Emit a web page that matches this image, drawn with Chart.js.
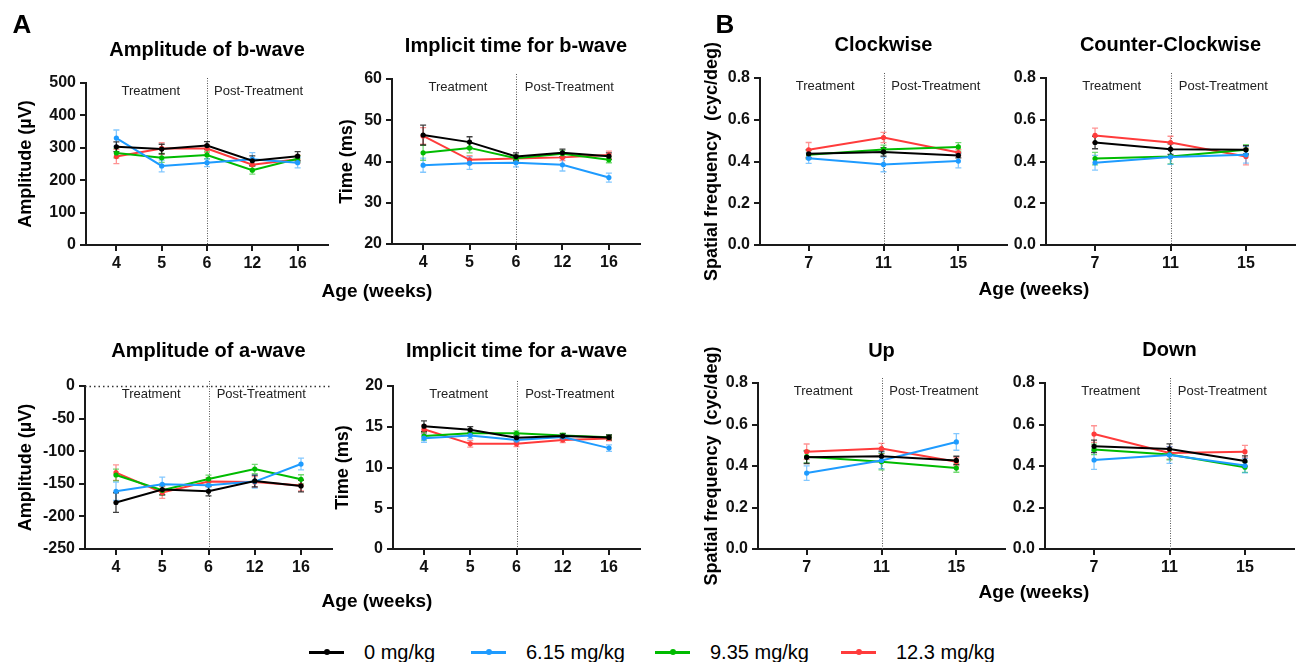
<!DOCTYPE html>
<html><head><meta charset="utf-8">
<script src="https://cdn.jsdelivr.net/npm/chart.js@4.4.1/dist/chart.umd.min.js"></script>
<style>
html,body{margin:0;padding:0;background:#fff;}
#fig{position:relative;width:1304px;height:662px;overflow:hidden;background:#fff;font-family:"Liberation Sans",Arial,sans-serif;color:#000;}
.cv{position:absolute;}
.lbl{position:absolute;white-space:nowrap;line-height:1;transform:translate(-50%,-50%);font-weight:bold;}
.leg{position:absolute;top:652px;height:0;}
.leg .ln{position:absolute;top:-1.5px;width:35px;height:3px;}
.leg .dt{position:absolute;top:-3px;left:14.5px;width:6px;height:6px;border-radius:50%;}
.leg .tx{position:absolute;left:55px;top:-11px;font-size:20px;line-height:22px;white-space:nowrap;}
</style></head>
<body><div id="fig"></div>
<script>
// ---------- data ----------
const groups = ['0 mg/kg', '6.15 mg/kg', '9.35 mg/kg', '12.3 mg/kg'];
const colors = ['#000000', '#1e9bff', '#00bb00', '#ff3b3b'];
const phases = ['Treatment', 'Post-Treatment'];
const ergWeeks = ['4', '5', '6', '12', '16'];
const omrWeeks = ['7', '11', '15'];

const bAmpTicks = ['0', '100', '200', '300', '400', '500'];
const bTimeTicks = ['20', '30', '40', '50', '60'];
const aAmpTicks = ['-250', '-200', '-150', '-100', '-50', '0'];
const aTimeTicks = ['0', '5', '10', '15', '20'];
const sfTicks = ['0.0', '0.2', '0.4', '0.6', '0.8'];

// order of series: 0, 6.15, 9.35, 12.3 mg/kg
const bAmpMean = [[303, 296, 307, 260, 274], [330, 244, 254, 265, 254], [284, 269, 278, 231, 266], [273, 298, 298, 248, 265]];
const bAmpErr  = [[15, 15, 12, 15, 14], [25, 18, 12, 20, 16], [15, 14, 12, 12, 10], [22, 18, 12, 14, 12]];

const bTimeMean = [[46.4, 44.7, 41.2, 42.1, 41.3], [39.1, 39.6, 39.7, 39.2, 36.1], [42.1, 43.3, 40.8, 41.9, 40.4], [46.2, 40.4, 40.7, 41.0, 41.6]];
const bTimeErr  = [[2.4, 1.3, 0.9, 0.9, 0.8], [1.7, 1.5, 1.0, 1.5, 1.1], [1.8, 1.2, 0.8, 0.8, 0.7], [2.0, 1.0, 0.8, 0.8, 0.9]];

const aAmpMean = [[-178.7, -158.9, -161.4, -145.6, -153.3], [-161.4, -150.7, -152.2, -146.6, -119.7], [-136.5, -160, -142.6, -127.3, -143.1], [-132.9, -163.4, -146.6, -147.1, -152.7]];
const aAmpErr  = [[15, 8, 7, 9, 9], [14, 11, 7, 10, 9], [9, 7, 6, 7, 7], [12, 9, 6, 8, 8]];

const aTimeMean = [[15.07, 14.62, 13.65, 13.85, 13.69], [13.6, 13.93, 13.36, 13.73, 12.38], [13.85, 14.2, 14.2, 13.93, 13.7], [14.7, 12.9, 12.9, 13.36, 13.56]];
const aTimeErr  = [[0.65, 0.4, 0.35, 0.3, 0.3], [0.5, 0.4, 0.35, 0.3, 0.4], [0.5, 0.3, 0.3, 0.3, 0.3], [0.5, 0.4, 0.35, 0.3, 0.3]];

const cwMean = [[0.437, 0.446, 0.429], [0.416, 0.386, 0.402], [0.432, 0.458, 0.470], [0.456, 0.515, 0.443]];
const cwErr  = [[0.02, 0.02, 0.012], [0.025, 0.035, 0.033], [0.02, 0.02, 0.02], [0.035, 0.025, 0.015]];

const ccwMean = [[0.491, 0.459, 0.456], [0.394, 0.421, 0.432], [0.414, 0.424, 0.456], [0.525, 0.491, 0.424]];
const ccwErr  = [[0.03, 0.025, 0.02], [0.035, 0.035, 0.04], [0.03, 0.035, 0.025], [0.035, 0.03, 0.04]];

const upMean = [[0.442, 0.447, 0.427], [0.366, 0.427, 0.516], [0.445, 0.421, 0.390], [0.469, 0.484, 0.421]];
const upErr  = [[0.03, 0.025, 0.02], [0.035, 0.04, 0.04], [0.03, 0.04, 0.02], [0.037, 0.025, 0.02]];

const downMean = [[0.495, 0.482, 0.424], [0.429, 0.453, 0.402], [0.480, 0.455, 0.394], [0.554, 0.463, 0.469]];
const downErr  = [[0.03, 0.025, 0.025], [0.045, 0.04, 0.035], [0.025, 0.025, 0.025], [0.04, 0.03, 0.03]];

// ---------- layout / style ----------
const FONT = '"Liberation Sans", Arial, sans-serif';
const fig = document.getElementById('fig');

function hexA(hex, a) {
  const n = parseInt(hex.slice(1), 16);
  return 'rgba(' + ((n >> 16) & 255) + ',' + ((n >> 8) & 255) + ',' + (n & 255) + ',' + a + ')';
}

const decorPlugin = {
  id: 'panelDecor',
  beforeDatasetsDraw(chart, args, o) {
    const {ctx, chartArea: a, scales: {x, y}} = chart;
    ctx.save();
    if (o.zeroLine) {
      const yy = Math.round(y.getPixelForValue(0)) + 0.5;
      ctx.strokeStyle = '#333'; ctx.lineWidth = 1.3; ctx.setLineDash([1.5, 3]);
      ctx.beginPath(); ctx.moveTo(a.left, yy); ctx.lineTo(a.right, yy); ctx.stroke();
    }
    const dx = Math.round(x.getPixelForValue(o.divider)) + 0.5;
    ctx.strokeStyle = '#555'; ctx.lineWidth = 1; ctx.setLineDash([1, 1.5]);
    ctx.beginPath(); ctx.moveTo(dx, a.top - 5); ctx.lineTo(dx, a.bottom); ctx.stroke();
    ctx.setLineDash([]);
    const dss = chart.data.datasets;
    for (let di = dss.length - 1; di >= 0; di--) {
      const ds = dss[di];
      ctx.strokeStyle = hexA(ds.borderColor, di === 0 ? 0.75 : 0.55);
      ctx.lineWidth = 1.3;
      ds.data.forEach((pt, i) => {
        const e = ds.errors[i];
        const px = x.getPixelForValue(pt.x);
        const y1 = y.getPixelForValue(pt.y + e), y2 = y.getPixelForValue(pt.y - e);
        ctx.beginPath();
        ctx.moveTo(px, y1); ctx.lineTo(px, y2);
        ctx.moveTo(px - 3, y1); ctx.lineTo(px + 3, y1);
        ctx.moveTo(px - 3, y2); ctx.lineTo(px + 3, y2);
        ctx.stroke();
      });
    }
    ctx.restore();
  },
  afterDraw(chart, args, o) {
    const {ctx, chartArea: a, scales: {x}} = chart;
    ctx.save();
    ctx.fillStyle = '#000';
    ctx.textAlign = 'center'; ctx.textBaseline = 'alphabetic';
    ctx.font = 'bold 20px ' + FONT;
    ctx.fillText(o.title, (a.left + a.right) / 2, o.titleBase);
    ctx.font = '13px ' + FONT;
    ctx.fillStyle = '#222';
    ctx.fillText(phases[0], x.getPixelForValue(o.treatX), a.top + 12);
    ctx.fillText(phases[1], x.getPixelForValue(o.postX), a.top + 12);
    ctx.restore();
  }
};

function makePanel(p) {
  const cv = document.createElement('canvas');
  cv.className = 'cv';
  cv.width = p.cw; cv.height = p.ch;
  cv.style.left = p.cx + 'px'; cv.style.top = p.cy + 'px';
  cv.style.width = p.cw + 'px'; cv.style.height = p.ch + 'px';
  fig.appendChild(cv);
  const n = p.cats.length;
  const yVals = p.yTicks.map(Number);
  const datasets = p.means.map((arr, g) => ({
    label: groups[g],
    data: arr.map((v, i) => ({x: i, y: v})),
    errors: p.errs[g],
    borderColor: colors[g], backgroundColor: colors[g],
    pointBackgroundColor: colors[g], pointBorderColor: colors[g],
    borderWidth: 2, pointRadius: 2.6, pointHoverRadius: 2.6, pointBorderWidth: 0,
    tension: 0
  }));
  const ax = {display: true, width: 2, color: '#1a1a1a'};
  const gr = {display: true, drawOnChartArea: false, drawTicks: true, tickLength: 6, lineWidth: 2, color: '#1a1a1a'};
  const tf = {family: FONT, size: 16, weight: 'bold'};
  new Chart(cv, {
    type: 'line',
    data: {datasets},
    options: {
      responsive: false, animation: false, events: [],
      layout: {padding: {left: 0, top: p.areaTop - p.cy, right: p.cx + p.cw - p.areaRight, bottom: 0}},
      plugins: {
        legend: {display: false}, tooltip: {enabled: false}, title: {display: false},
        panelDecor: {title: p.title, titleBase: p.titleBase - p.cy, divider: p.divider,
                     treatX: p.treatX, postX: p.postX, zeroLine: !!p.zeroLine}
      },
      scales: {
        x: {
          type: 'linear', min: -p.xOff, max: n - 1 + p.xOff,
          afterBuildTicks: s => { s.ticks = p.cats.map((c, i) => ({value: i})); },
          afterFit: s => { s.height = p.cy + p.ch - p.areaBottom; },
          ticks: {callback: (v) => p.cats[v], font: tf, color: '#111', padding: 3, maxRotation: 0, autoSkip: false},
          grid: gr, border: ax
        },
        y: {
          type: 'linear', min: yVals[0], max: yVals[yVals.length - 1],
          afterBuildTicks: s => { s.ticks = yVals.map(v => ({value: v})); },
          afterFit: s => { s.width = p.areaLeft - p.cx; },
          ticks: {callback: (v, i) => p.yTicks[i], font: tf, color: '#111', padding: 4, autoSkip: false},
          grid: gr, border: ax,
          title: p.yTitle ? {display: true, text: p.yTitle, color: '#000',
                  font: {family: FONT, size: 18, weight: 'bold'},
                  padding: {top: p.yTitleX - p.cx - 10.8, bottom: 0}} : {display: false}
        }
      }
    },
    plugins: [decorPlugin]
  });
}

const panels = [
  {title: 'Amplitude of b-wave', titleBase: 56, cats: ergWeeks, means: bAmpMean, errs: bAmpErr, yTicks: bAmpTicks,
   yTitle: 'Amplitude (\u00b5V)', yTitleX: 26, cx: 0, cy: 25, cw: 340, ch: 250,
   areaLeft: 86, areaRight: 328, areaTop: 83, areaBottom: 245, xOff: 0.67, divider: 2, treatX: 0.76, postX: 3.14},
  {title: 'Implicit time for b-wave', titleBase: 52, cats: ergWeeks, means: bTimeMean, errs: bTimeErr, yTicks: bTimeTicks,
   yTitle: 'Time (ms)', yTitleX: 347, cx: 330, cy: 25, cw: 320, ch: 250,
   areaLeft: 392, areaRight: 640, areaTop: 79, areaBottom: 244, xOff: 0.67, divider: 2, treatX: 0.75, postX: 3.15},
  {title: 'Clockwise', titleBase: 51, cats: omrWeeks, means: cwMean, errs: cwErr, yTicks: sfTicks,
   yTitle: 'Spatial frequency  (cyc/deg)', yTitleX: 712, cx: 690, cy: 20, cw: 325, ch: 280,
   areaLeft: 760, areaRight: 1007, areaTop: 78, areaBottom: 245, xOff: 0.65, divider: 1, treatX: 0.22, postX: 1.70},
  {title: 'Counter-Clockwise', titleBase: 51, cats: omrWeeks, means: ccwMean, errs: ccwErr, yTicks: sfTicks,
   yTitle: null, cx: 1005, cy: 25, cw: 299, ch: 250,
   areaLeft: 1046, areaRight: 1295, areaTop: 78, areaBottom: 245, xOff: 0.65, divider: 1, treatX: 0.22, postX: 1.70},
  {title: 'Amplitude of a-wave', titleBase: 357, cats: ergWeeks, means: aAmpMean, errs: aAmpErr, yTicks: aAmpTicks,
   yTitle: 'Amplitude (\u00b5V)', yTitleX: 26, cx: 0, cy: 330, cw: 340, ch: 250, zeroLine: true,
   areaLeft: 85, areaRight: 332, areaTop: 386, areaBottom: 549, xOff: 0.67, divider: 2, treatX: 0.76, postX: 3.14},
  {title: 'Implicit time for a-wave', titleBase: 357, cats: ergWeeks, means: aTimeMean, errs: aTimeErr, yTicks: aTimeTicks,
   yTitle: 'Time (ms)', yTitleX: 343, cx: 330, cy: 330, cw: 320, ch: 250,
   areaLeft: 393, areaRight: 640, areaTop: 386, areaBottom: 549, xOff: 0.67, divider: 2, treatX: 0.75, postX: 3.15},
  {title: 'Up', titleBase: 357, cats: omrWeeks, means: upMean, errs: upErr, yTicks: sfTicks,
   yTitle: 'Spatial frequency  (cyc/deg)', yTitleX: 712, cx: 690, cy: 325, cw: 325, ch: 280,
   areaLeft: 758, areaRight: 1005, areaTop: 383, areaBottom: 549, xOff: 0.65, divider: 1, treatX: 0.22, postX: 1.70},
  {title: 'Down', titleBase: 356, cats: omrWeeks, means: downMean, errs: downErr, yTicks: sfTicks,
   yTitle: null, cx: 1005, cy: 330, cw: 299, ch: 250,
   areaLeft: 1045, areaRight: 1294, areaTop: 383, areaBottom: 549, xOff: 0.65, divider: 1, treatX: 0.22, postX: 1.70}
];
panels.forEach(makePanel);

// ---------- shared text ----------
function addLabel(text, x, y, size) {
  const d = document.createElement('div');
  d.className = 'lbl'; d.textContent = text;
  d.style.left = x + 'px'; d.style.top = y + 'px'; d.style.fontSize = size + 'px';
  fig.appendChild(d);
}
addLabel('A', 22, 24, 26);
addLabel('B', 725, 24, 26);
addLabel('Age (weeks)', 377, 290, 19);
addLabel('Age (weeks)', 377, 600, 19);
addLabel('Age (weeks)', 1034, 288, 19);
addLabel('Age (weeks)', 1034, 591, 19);

// ---------- legend ----------
const legX = [309, 471, 655, 841];
groups.forEach((g, i) => {
  const d = document.createElement('div');
  d.className = 'leg'; d.style.left = legX[i] + 'px';
  d.innerHTML = '<span class="ln" style="background:' + colors[i] + '"></span>' +
                '<span class="dt" style="background:' + colors[i] + '"></span>' +
                '<span class="tx">' + g + '</span>';
  fig.appendChild(d);
});
</script>
</body></html>
